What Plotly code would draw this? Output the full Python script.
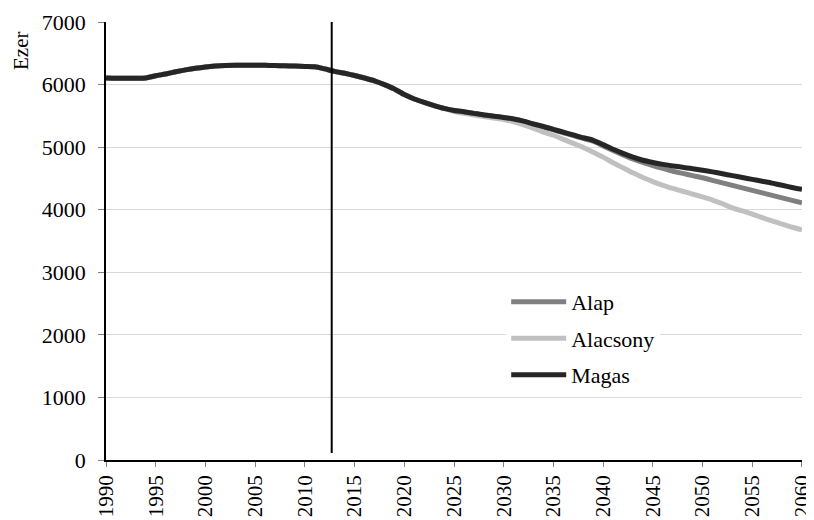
import plotly.graph_objects as go

years = list(range(1990, 2061))

hist = [6105, 6100, 6100, 6100, 6105, 6140, 6170, 6205, 6235, 6260,
        6280, 6295, 6305, 6310, 6310, 6310, 6310, 6305, 6300, 6295,
        6290, 6285, 6250, 6210, 6180, 6145, 6105, 6060, 6000, 5930,
        5840, 5770, 5715, 5665, 5620]  # 1990-2024

magas_tail = [5585, 5565, 5540, 5515, 5495, 5475, 5450, 5415, 5370, 5330,
              5285, 5240, 5195, 5150, 5110, 5040, 4965, 4900, 4840, 4790,
              4755, 4725, 4700, 4680, 4655, 4630, 4605, 4575, 4545, 4515,
              4485, 4455, 4425, 4390, 4355, 4325]  # 2025-2060

alap_tail = [5585, 5565, 5540, 5515, 5495, 5470, 5445, 5410, 5365, 5320,
             5275, 5230, 5185, 5140, 5095, 5020, 4945, 4875, 4810, 4755,
             4705, 4660, 4615, 4580, 4545, 4510, 4470, 4430, 4390, 4350,
             4310, 4270, 4230, 4190, 4150, 4110]  # 2025-2060

alacsony_tail = [5570, 5540, 5515, 5490, 5465, 5440, 5405, 5355, 5300, 5240,
                 5190, 5125, 5060, 4995, 4920, 4840, 4750, 4670, 4590, 4515,
                 4450, 4390, 4340, 4295, 4250, 4205, 4155, 4095, 4030, 3980,
                 3930, 3875, 3820, 3770, 3720, 3680]  # 2025-2060

alap = hist + alap_tail
alacsony = hist + alacsony_tail
magas = hist + magas_tail

series_names = ["Alap", "Alacsony", "Magas"]
series_colors = ["#808080", "#c0c0c0", "#262626"]
series_values = [alap, alacsony, magas]

x_ticks = list(range(1990, 2061, 5))
y_ticks = list(range(0, 7001, 1000))
divider_year = 2012.7

FONT = "Liberation Serif"

fig = go.Figure()
for name, color, vals in zip(series_names, series_colors, series_values):
    fig.add_trace(go.Scatter(x=years, y=vals, mode="lines", name=name, legendgroup=name,
                             line=dict(color=color, width=5, shape="spline", smoothing=0.6)))

fig.add_shape(type="line", xref="x", yref="y", x0=divider_year, x1=divider_year,
              y0=110, y1=7030, line=dict(color="black", width=2), layer="above")

fig.update_layout(
    width=806, height=512,
    margin=dict(l=98, r=12, t=14, b=60, autoexpand=False),
    paper_bgcolor="white", plot_bgcolor="white",
    font=dict(family=FONT, size=22, color="black"),
    showlegend=True,
    legend=dict(x=0.575, y=0.409, xanchor="left", yanchor="top",
                bgcolor="white", font=dict(family=FONT, size=22, color="black"),
                itemwidth=55, traceorder="grouped", tracegroupgap=5),
    xaxis=dict(range=[1989.999, 2060.001], tickmode="array", tickvals=x_ticks,
               ticktext=[str(t) for t in x_ticks], tickangle=-90,
               showline=True, linecolor="black", linewidth=1.5,
               ticks="outside", ticklen=5, tickcolor="#808080",
               showgrid=False, zeroline=False, ticklabelstandoff=0,
               ticklabeloverflow="allow", automargin=False,
               tickfont=dict(family=FONT, size=21, color="black")),
    yaxis=dict(range=[0, 7000], tickmode="array", tickvals=y_ticks,
               showline=True, linecolor="black", linewidth=1.5,
               ticks="outside", ticklen=6, tickcolor="#808080",
               showgrid=True, gridcolor="#d9d9d9", gridwidth=1,
               zeroline=False, ticklabelstandoff=8, automargin=False,
               tickfont=dict(family=FONT, size=22, color="black")),
    annotations=[dict(text="Ezer", xref="paper", yref="paper", x=-0.122, y=0.934,
                      xanchor="center", yanchor="middle", textangle=-90, showarrow=False,
                      font=dict(family=FONT, size=21, color="black"))],
)

fig.write_html("out.html")
